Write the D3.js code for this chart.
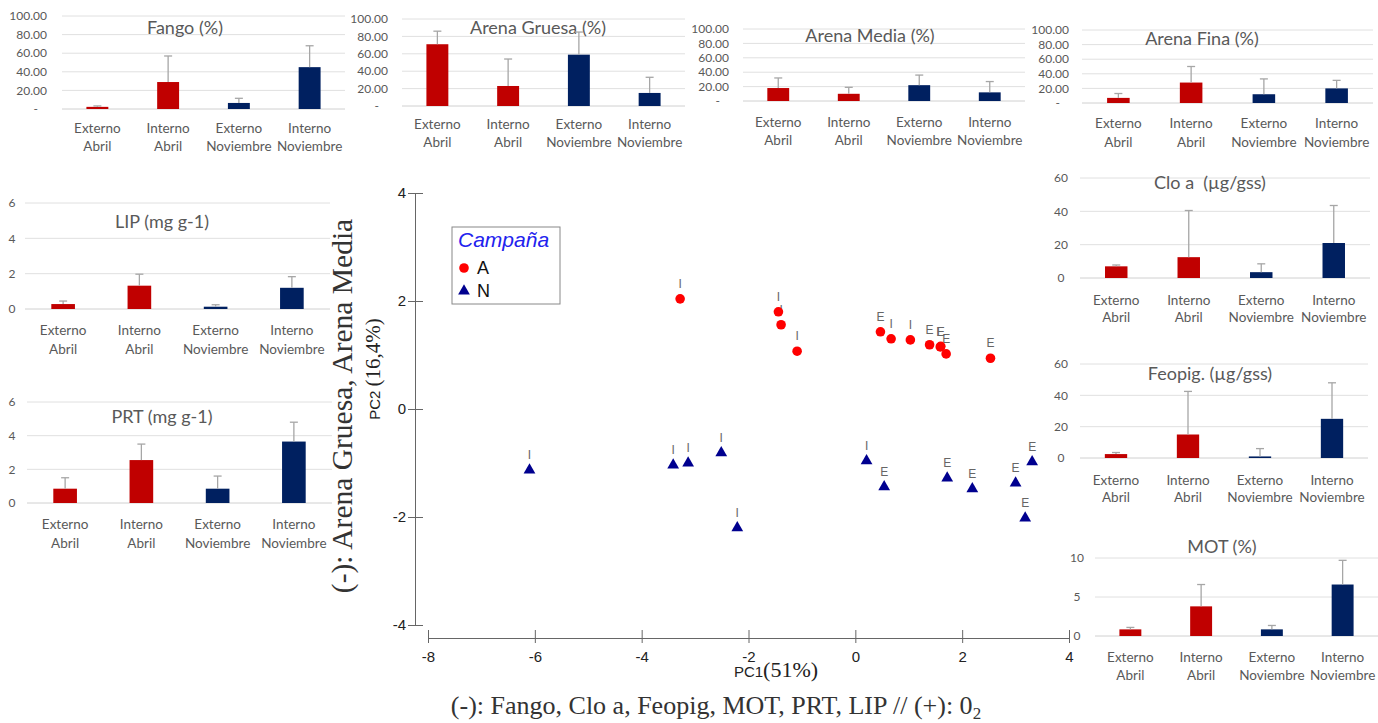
<!DOCTYPE html>
<html><head><meta charset="utf-8">
<script src="https://cdn.jsdelivr.net/npm/d3@7"></script>
<style>
html,body{margin:0;padding:0;background:#fff;}
svg{display:block;}
</style></head>
<body>
<svg id="chart" width="1378" height="723"></svg>
<script>
// ---------- DATA ----------
const categories = [["Externo","Abril"],["Interno","Abril"],["Externo","Noviembre"],["Interno","Noviembre"]];
const barColors = ["#C00000","#C00000","#002060","#002060"];

const fango = [2.3, 29, 6.5, 45];           const fangoErr = [1.0, 28, 5, 23];
const arenaGruesa = [71, 23, 59, 15];       const arenaGruesaErr = [15, 31, 26, 18];
const arenaMedia = [18, 10, 22, 12];        const arenaMediaErr = [14, 9, 14, 15];
const arenaFina = [7, 28, 12, 20];          const arenaFinaErr = [6, 22, 21, 11];
const lip = [0.28, 1.32, 0.13, 1.2];        const lipErr = [0.17, 0.65, 0.11, 0.63];
const prt = [0.85, 2.55, 0.85, 3.65];       const prtErr = [0.65, 0.95, 0.75, 1.15];
const cloa = [7, 12.5, 3.5, 21];            const cloaErr = [0.8, 28, 5, 22.5];
const feopig = [2.5, 15, 1, 25];            const feopigErr = [1, 27.5, 5, 23];
const mot = [0.85, 3.8, 0.85, 6.6];         const motErr = [0.25, 2.8, 0.5, 3.1];

const pctTicks = [0, 20, 40, 60, 80, 100];
const mgTicks = [0, 2, 4, 6];
const pigTicks = [0, 20, 40, 60];
const motTicks = [0, 5, 10];

// PCA scores
const pcaA_x = [-3.28, -1.39, -1.44, -1.09, 0.47, 0.67, 1.03, 1.39, 1.59, 1.60, 1.70, 2.53];
const pcaA_y = [ 2.04,  1.56,  1.80,  1.07, 1.43, 1.30, 1.28, 1.19, 1.15, 1.16, 1.02, 0.94];
const pcaA_lab = ["I","I","I","I","E","I","I","E","E","E","E","E"];
const pcaN_x = [-6.10, -3.41, -3.13, -2.51, -2.21, 0.21, 0.54, 1.72, 2.19, 3.00, 3.31, 3.18];
const pcaN_y = [-1.13, -1.04, -1.00, -0.81, -2.20, -0.96, -1.44, -1.28, -1.48, -1.37, -0.98, -2.02];
const pcaN_lab = ["I","I","I","I","I","I","E","E","E","E","E","E"];
const pcaXTicks = [-8, -6, -4, -2, 0, 2, 4];
const pcaYTicks = [-4, -2, 0, 2, 4];

// ---------- DRAW ----------
const svg = d3.select("#chart");
const FONT = "Lato, 'Open Sans', sans-serif";
const GREY = "#595959";
const SANS = "'Liberation Sans', Arial, sans-serif";
const SERIF = "'Liberation Serif', 'Times New Roman', serif";

function barChart(cfg){
  const g = svg.append("g");
  const x = d3.scaleBand().domain(d3.range(4)).range([cfg.x0, cfg.x1]).paddingInner(0.69).paddingOuter(0.345);
  const y = d3.scaleLinear().domain([0, d3.max(cfg.ticks)]).range([cfg.y0, cfg.yTop]);
  g.selectAll("line.grid").data(cfg.ticks).join("line")
    .attr("x1", cfg.x0).attr("x2", cfg.x1)
    .attr("y1", d => y(d)).attr("y2", d => y(d))
    .attr("stroke", d => d === 0 ? "#d0d0d0" : "#e0e0e0").attr("stroke-width", 1);
  g.selectAll("text.tick").data(cfg.ticks).join("text")
    .attr("x", d => (cfg.fmt && d === 0) ? cfg.labelX - 9 : cfg.labelX)
    .attr("y", d => y(d)).attr("dy", "0.35em")
    .attr("text-anchor", cfg.labelAnchor || "end")
    .attr("font-family", FONT).attr("font-size", 12).attr("fill", GREY)
    .text(d => cfg.fmt ? (d === 0 ? "-" : d3.format(".2f")(d)) : d);
  g.append("text").attr("x", cfg.titleX).attr("y", cfg.titleY).attr("dy", "0.35em")
    .attr("text-anchor", "middle").attr("font-family", FONT).attr("font-size", 18).attr("fill", GREY)
    .text(cfg.title);
  g.selectAll("rect.bar").data(cfg.values).join("rect")
    .attr("x", (d,i) => x(i)).attr("width", x.bandwidth())
    .attr("y", d => y(d)).attr("height", d => cfg.y0 - y(d))
    .attr("fill", (d,i) => barColors[i]);
  const eb = g.selectAll("g.err").data(cfg.values).join("g");
  eb.append("line")
    .attr("x1", (d,i) => x(i) + x.bandwidth()/2).attr("x2", (d,i) => x(i) + x.bandwidth()/2)
    .attr("y1", d => y(d)).attr("y2", (d,i) => y(d + cfg.errs[i]))
    .attr("stroke", "#a6a6a6").attr("stroke-width", 1.3);
  eb.append("line")
    .attr("x1", (d,i) => x(i) + x.bandwidth()/2 - 4).attr("x2", (d,i) => x(i) + x.bandwidth()/2 + 4)
    .attr("y1", (d,i) => y(d + cfg.errs[i])).attr("y2", (d,i) => y(d + cfg.errs[i]))
    .attr("stroke", "#a6a6a6").attr("stroke-width", 1.3);
  const cl = g.selectAll("text.cat").data(categories).join("text")
    .attr("text-anchor", "middle").attr("font-family", FONT).attr("font-size", 13.5).attr("fill", GREY);
  cl.append("tspan").attr("x", (d,i) => x(i) + x.bandwidth()/2).attr("y", cfg.catY1).attr("dy", "0.35em").text(d => d[0]);
  cl.append("tspan").attr("x", (d,i) => x(i) + x.bandwidth()/2).attr("y", cfg.catY2).attr("dy", "0.35em").text(d => d[1]);
}

barChart({title:"Fango (%)", values:fango, errs:fangoErr, ticks:pctTicks, fmt:true,
  x0:62, x1:345, y0:109, yTop:16, labelX:47, titleX:185, titleY:28, catY1:128, catY2:146});
barChart({title:"Arena Gruesa (%)", values:arenaGruesa, errs:arenaGruesaErr, ticks:pctTicks, fmt:true,
  x0:402, x1:685, y0:106, yTop:19, labelX:388, titleX:538, titleY:28, catY1:124, catY2:142});
barChart({title:"Arena Media (%)", values:arenaMedia, errs:arenaMediaErr, ticks:pctTicks, fmt:true,
  x0:743, x1:1025, y0:101, yTop:29, labelX:729, titleX:870, titleY:36, catY1:122, catY2:140});
barChart({title:"Arena Fina (%)", values:arenaFina, errs:arenaFinaErr, ticks:pctTicks, fmt:true,
  x0:1082, x1:1373, y0:103, yTop:30, labelX:1069, titleX:1202, titleY:39, catY1:123, catY2:142});
barChart({title:"LIP (mg g-1)", values:lip, errs:lipErr, ticks:mgTicks,
  x0:25, x1:330, y0:309, yTop:203, labelX:12, labelAnchor:"middle", titleX:162, titleY:222, catY1:330, catY2:349});
barChart({title:"PRT (mg g-1)", values:prt, errs:prtErr, ticks:mgTicks,
  x0:27, x1:332, y0:503, yTop:402, labelX:12, labelAnchor:"middle", titleX:162, titleY:417, catY1:524, catY2:543});
barChart({title:"Clo a\u00A0 (µg/gss)", values:cloa, errs:cloaErr, ticks:pigTicks,
  x0:1080, x1:1370, y0:278, yTop:178, labelX:1061, labelAnchor:"middle", titleX:1210, titleY:183, catY1:300, catY2:317});
barChart({title:"Feopig. (µg/gss)", values:feopig, errs:feopigErr, ticks:pigTicks,
  x0:1080, x1:1368, y0:458, yTop:364, labelX:1061, labelAnchor:"middle", titleX:1210, titleY:374, catY1:480, catY2:497});
barChart({title:"MOT (%)", values:mot, errs:motErr, ticks:motTicks,
  x0:1095, x1:1378, y0:636, yTop:558, labelX:1077, labelAnchor:"middle", titleX:1222, titleY:547, catY1:657, catY2:675});

// ---------- PCA scatter ----------
const px = d3.scaleLinear().domain([-8, 4]).range([428, 1069]);
const py = d3.scaleLinear().domain([-4, 4]).range([625, 193]);
const AX = "#666";

const xAxis = svg.append("g").attr("transform", "translate(0,638)")
  .call(d3.axisBottom(px).tickValues(pcaXTicks).tickSizeOuter(0).tickSize(5).tickPadding(8).tickFormat(d => String(d)));
xAxis.select(".domain").attr("stroke", AX);
xAxis.selectAll(".tick line").attr("y1", -8).attr("y2", 5).attr("stroke", AX);
xAxis.selectAll(".tick text").attr("font-family", SANS).attr("font-size", 15).attr("fill", "#222");

const yAxis = svg.append("g").attr("transform", "translate(415,0)")
  .call(d3.axisLeft(py).tickValues(pcaYTicks).tickSizeOuter(0).tickSize(6).tickPadding(3).tickFormat(d => String(d)));
yAxis.select(".domain").attr("stroke", AX);
yAxis.selectAll(".tick line").attr("x1", -7).attr("x2", 8).attr("stroke", AX);
yAxis.selectAll(".tick text").attr("font-family", SANS).attr("font-size", 15).attr("fill", "#222");

const yt = svg.append("text").attr("transform", "translate(380,369) rotate(-90)").attr("text-anchor", "middle").attr("fill", "#222");
yt.append("tspan").attr("font-family", SANS).attr("font-size", 15).text("PC2 ");
yt.append("tspan").attr("font-family", SERIF).attr("font-size", 21).text("(16,4%)");

svg.append("text").attr("transform", "translate(352,406) rotate(-90)").attr("text-anchor", "middle")
  .attr("font-family", SERIF).attr("font-size", 29.5).attr("fill", "#333")
  .text("(-): Arena Gruesa, Arena Media");

const xt = svg.append("text").attr("x", 776).attr("y", 677).attr("text-anchor", "middle").attr("fill", "#222");
xt.append("tspan").attr("font-family", SANS).attr("font-size", 15).text("PC1");
xt.append("tspan").attr("font-family", SERIF).attr("font-size", 22).text("(51%)");

const cap = svg.append("text").attr("x", 716).attr("y", 714).attr("text-anchor", "middle")
  .attr("font-family", SERIF).attr("font-size", 26).attr("fill", "#333");
cap.append("tspan").text("(-): Fango, Clo a, Feopig, MOT, PRT, LIP // (+): 0");
cap.append("tspan").attr("font-size", 17).attr("dy", 5).text("2");

const A = pcaA_x.map((d,i) => ({x:d, y:pcaA_y[i], l:pcaA_lab[i]}));
const N = pcaN_x.map((d,i) => ({x:d, y:pcaN_y[i], l:pcaN_lab[i]}));
svg.append("g").selectAll("text").data(A.concat(N)).join("text")
  .attr("x", d => px(d.x)).attr("y", d => py(d.y) - 15).attr("dy", "0.35em")
  .attr("text-anchor", "middle").attr("font-family", SANS)
  .attr("font-size", 12).attr("fill", "#666").text(d => d.l);

svg.append("g").selectAll("circle").data(A).join("circle")
  .attr("cx", d => px(d.x)).attr("cy", d => py(d.y)).attr("r", 4.8).attr("fill", "#ff0000");
const tri = d3.symbol().type(d3.symbolTriangle).size(60);
svg.append("g").selectAll("path").data(N).join("path")
  .attr("transform", d => `translate(${px(d.x)},${py(d.y)})`).attr("d", tri).attr("fill", "#00008f");

const lg = svg.append("g");
lg.append("rect").attr("x", 452).attr("y", 227).attr("width", 108).attr("height", 77)
  .attr("fill", "#fff").attr("stroke", "#888").attr("stroke-width", 1);
lg.append("text").attr("x", 458).attr("y", 247).attr("font-family", SANS)
  .attr("font-size", 21).attr("font-style", "italic").attr("fill", "#2222ee").text("Campaña");
lg.append("circle").attr("cx", 464).attr("cy", 268).attr("r", 4.8).attr("fill", "#ff0000");
lg.append("text").attr("x", 477).attr("y", 268).attr("dy", "0.35em").attr("font-family", SANS)
  .attr("font-size", 18).attr("fill", "#111").text("A");
lg.append("path").attr("transform", "translate(464,291)").attr("d", tri).attr("fill", "#00008f");
lg.append("text").attr("x", 477).attr("y", 291).attr("dy", "0.35em").attr("font-family", SANS)
  .attr("font-size", 18).attr("fill", "#111").text("N");
</script>
</body></html>
